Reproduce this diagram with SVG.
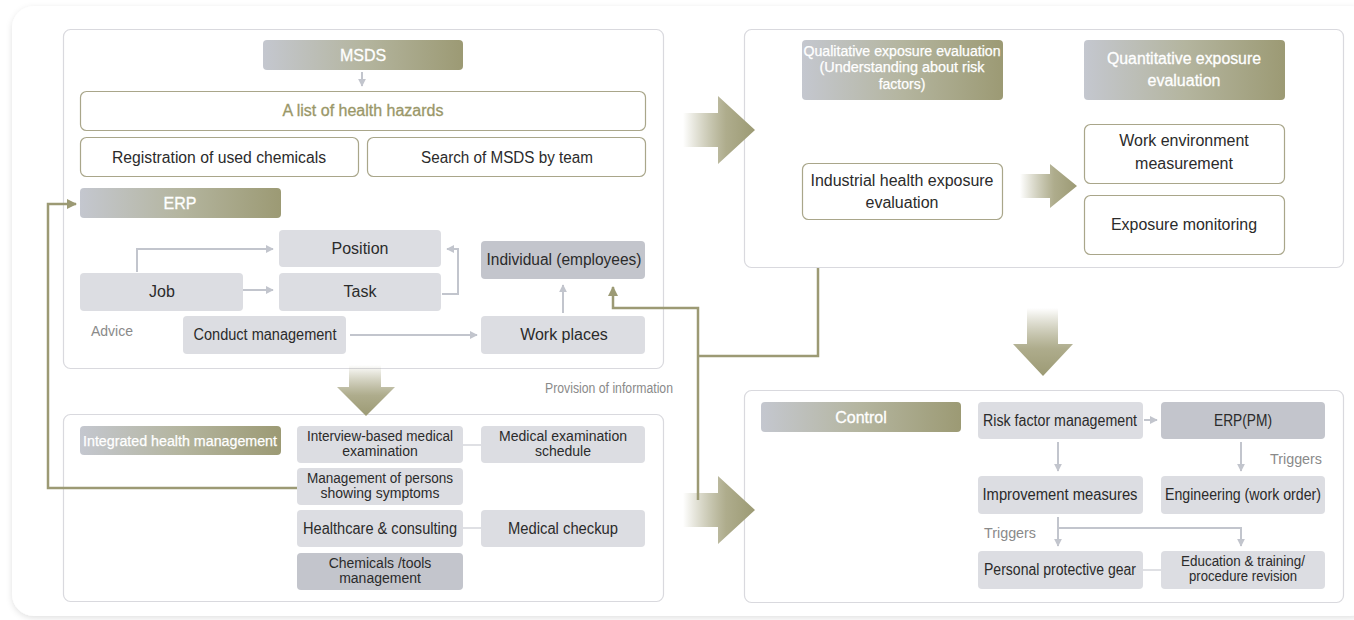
<svg xmlns="http://www.w3.org/2000/svg" width="1354" height="620" viewBox="0 0 1354 620">
  <defs>
    <linearGradient id="hdr" x1="0" y1="0" x2="1" y2="0">
      <stop offset="0" stop-color="#c4c7cf"/>
      <stop offset="0.5" stop-color="#b4b59f"/>
      <stop offset="1" stop-color="#9c9a74"/>
    </linearGradient>
    <linearGradient id="bigR" x1="0" y1="0" x2="1" y2="0">
      <stop offset="0" stop-color="#9c9a74" stop-opacity="0"/>
      <stop offset="0.6" stop-color="#aeac8c"/>
      <stop offset="1" stop-color="#9c9a74"/>
    </linearGradient>
    <linearGradient id="bigD" x1="0" y1="0" x2="0" y2="1">
      <stop offset="0" stop-color="#9c9a74" stop-opacity="0"/>
      <stop offset="0.6" stop-color="#aeac8c"/>
      <stop offset="1" stop-color="#9c9a74"/>
    </linearGradient>
    <filter id="shadow" x="-5%" y="-5%" width="110%" height="110%">
      <feDropShadow dx="0" dy="2" stdDeviation="3" flood-color="#000" flood-opacity="0.12"/>
    </filter>
    <marker id="ag" viewBox="0 0 10 10" refX="9" refY="5" markerWidth="4" markerHeight="4" orient="auto">
      <path d="M0,0 L10,5 L0,10 z" fill="#c2c5cd"/>
    </marker>
    <marker id="ao" viewBox="0 0 10 10" refX="9" refY="5" markerWidth="4" markerHeight="4" orient="auto">
      <path d="M0,0 L10,5 L0,10 z" fill="#9c9a74"/>
    </marker>
  </defs>
  <style>
    text { font-family: "Liberation Sans", Arial, sans-serif; text-anchor: middle; }
    .panel { fill: #ffffff; stroke: #d9d9de; stroke-width: 1.2; }
    .hdr { fill: url(#hdr); }
    .hdrt { fill: #ffffff; font-size: 16px; stroke: #ffffff; stroke-width: 0.3; }
    .hdrs { fill: #ffffff; font-size: 14px; stroke: #ffffff; stroke-width: 0.25; }
    .ob { fill: #ffffff; stroke: #a9a68a; stroke-width: 1.2; }
    .gb { fill: #dcdde2; }
    .db { fill: #c3c5cc; }
    .t { fill: #2b2b2b; font-size: 16px; }
    .ts { fill: #2b2b2b; font-size: 14px; }
    .lbl { fill: #8a8a8a; font-size: 14px; }
    .gl { fill: none; stroke: #c2c5cd; stroke-width: 2; }
    .ol { fill: none; stroke: #9c9a74; stroke-width: 2.5; }
    .pl { fill: none; stroke: #d5d6db; stroke-width: 1.5; }
  </style>

  <!-- outer card -->
  <rect x="12" y="6" width="1360" height="610" rx="22" fill="#ffffff" filter="url(#shadow)"/>

  <!-- panels -->
  <g id="panel-erp"><rect class="panel" x="63.5" y="29.5" width="600" height="339" rx="7"/></g>
  <g id="panel-health"><rect class="panel" x="63.5" y="414.5" width="600" height="187" rx="7"/></g>
  <g id="panel-exposure"><rect class="panel" x="744.5" y="29.5" width="599" height="238" rx="7"/></g>
  <g id="panel-control"><rect class="panel" x="744.5" y="390.5" width="599" height="212" rx="7"/></g>

  <!-- big flow arrows -->
  <g id="flow-arrows">
    <path d="M683,113 L718,113 L718,96 L755,130 L718,164 L718,147 L683,147 z" fill="url(#bigR)"/>
    <path d="M683,493 L718,493 L718,476 L755,510 L718,544 L718,527 L683,527 z" fill="url(#bigR)"/>
    <path d="M1020,174 L1050,174 L1050,164 L1077,186 L1050,208 L1050,198 L1020,198 z" fill="url(#bigR)"/>
    <path d="M349,365 L381,365 L381,387 L395,387 L366,416 L337,387 L349,387 z" fill="url(#bigD)"/>
    <path d="M1027,308 L1058,308 L1058,344 L1073,344 L1043,376 L1013,344 L1027,344 z" fill="url(#bigD)"/>
  </g>

  <!-- connectors -->
  <g id="connectors">
    <path class="gl" d="M362,72 V86" marker-end="url(#ag)"/>
    <path class="gl" d="M137,272 V249 H273" marker-end="url(#ag)"/>
    <path class="gl" d="M204,290 H273" marker-end="url(#ag)"/>
    <path class="gl" d="M442,294 H458 V249 H447" marker-end="url(#ag)"/>
    <path class="gl" d="M563,313 V285" marker-end="url(#ag)"/>
    <path class="gl" d="M350,335 H477" marker-end="url(#ag)"/>
    <path class="pl" d="M463,445 H481"/>
    <path class="pl" d="M463,528 H481"/>
    <path class="gl" d="M1144,420 H1157" marker-end="url(#ag)"/>
    <path class="gl" d="M1058,442 V471" marker-end="url(#ag)"/>
    <path class="gl" d="M1241,442 V471" marker-end="url(#ag)"/>
    <path class="gl" d="M1058,517 V546" marker-end="url(#ag)"/>
    <path class="gl" d="M1058,528 H1241 V546" marker-end="url(#ag)"/>
    <path class="pl" d="M1143,570 H1161"/>
    <path class="ol" d="M297,488 H48 V204 H76" marker-end="url(#ao)"/>
    <path class="ol" d="M698,500 V308 H613 V287" marker-end="url(#ao)"/>
    <path class="ol" d="M818,268 V356 H698"/>
  </g>

  <!-- MSDS / ERP panel -->
  <g id="msds"><rect class="hdr" x="263" y="40" width="200" height="30" rx="4"/><text class="hdrt" x="363" y="61">MSDS</text></g>
  <g id="hazards"><rect class="ob" x="80.5" y="91.5" width="565" height="39" rx="6"/><text x="363" y="116" font-size="16" fill="#9a9768" stroke="#9a9768" stroke-width="0.3">A list of health hazards</text></g>
  <g id="registration"><rect class="ob" x="80.5" y="137.5" width="278" height="39" rx="6"/><text class="t" x="219" y="163" textLength="214" lengthAdjust="spacingAndGlyphs">Registration of used chemicals</text></g>
  <g id="search"><rect class="ob" x="367.5" y="137.5" width="278" height="39" rx="6"/><text class="t" x="507" y="163" textLength="172" lengthAdjust="spacingAndGlyphs">Search of MSDS by team</text></g>
  <g id="erp"><rect class="hdr" x="80" y="188" width="201" height="30" rx="4"/><text class="hdrt" x="180" y="209">ERP</text></g>
  <g id="position"><rect class="gb" x="279" y="230" width="162" height="37" rx="4"/><text class="t" x="360" y="254">Position</text></g>
  <g id="job"><rect class="gb" x="80" y="273" width="163" height="38" rx="4"/><text class="t" x="162" y="297">Job</text></g>
  <g id="task"><rect class="gb" x="279" y="273" width="162" height="38" rx="4"/><text class="t" x="360" y="297">Task</text></g>
  <g id="individual"><rect class="db" x="481" y="241" width="164" height="38" rx="4"/><text class="t" x="564" y="265" textLength="155" lengthAdjust="spacingAndGlyphs">Individual (employees)</text></g>
  <g id="advice"><text class="lbl" x="112" y="336" font-size="15">Advice</text></g>
  <g id="conduct"><rect class="gb" x="183" y="316" width="163" height="38" rx="4"/><text class="t" x="265" y="340" textLength="143" lengthAdjust="spacingAndGlyphs">Conduct management</text></g>
  <g id="workplaces"><rect class="gb" x="481" y="316" width="164" height="38" rx="4"/><text class="t" x="564" y="340">Work places</text></g>
  <g id="provision"><text class="lbl" x="609" y="393" font-size="13" textLength="128" lengthAdjust="spacingAndGlyphs">Provision of information</text></g>

  <!-- integrated health management panel -->
  <g id="ihm"><rect class="hdr" x="80" y="426" width="201" height="29" rx="4"/><text class="hdrs" x="180" y="446" font-size="15" textLength="194" lengthAdjust="spacingAndGlyphs">Integrated health management</text></g>
  <g id="interview"><rect class="gb" x="297" y="426" width="166" height="37" rx="4"/><text class="ts" x="380" y="441" textLength="146" lengthAdjust="spacingAndGlyphs">Interview-based medical</text><text class="ts" x="380" y="456">examination</text></g>
  <g id="schedule"><rect class="gb" x="481" y="426" width="164" height="37" rx="4"/><text class="ts" x="563" y="441" textLength="128" lengthAdjust="spacingAndGlyphs">Medical examination</text><text class="ts" x="563" y="456">schedule</text></g>
  <g id="symptoms"><rect class="gb" x="297" y="468" width="166" height="37" rx="4"/><text class="ts" x="380" y="483" textLength="146" lengthAdjust="spacingAndGlyphs">Management of persons</text><text class="ts" x="380" y="498">showing symptoms</text></g>
  <g id="healthcare"><rect class="gb" x="297" y="510" width="166" height="37" rx="4"/><text class="t" x="380" y="534" textLength="154" lengthAdjust="spacingAndGlyphs">Healthcare &amp; consulting</text></g>
  <g id="checkup"><rect class="gb" x="481" y="510" width="164" height="37" rx="4"/><text class="t" x="563" y="534" textLength="110" lengthAdjust="spacingAndGlyphs">Medical checkup</text></g>
  <g id="chemicals"><rect class="db" x="297" y="553" width="166" height="37" rx="4"/><text class="ts" x="380" y="568">Chemicals /tools</text><text class="ts" x="380" y="583">management</text></g>

  <!-- exposure evaluation panel -->
  <g id="qualitative"><rect class="hdr" x="802" y="40" width="201" height="60" rx="4"/><text class="hdrs" x="902" y="56" font-size="15" textLength="197" lengthAdjust="spacingAndGlyphs">Qualitative exposure evaluation</text><text class="hdrs" x="902" y="72" font-size="15" textLength="165" lengthAdjust="spacingAndGlyphs">(Understanding about risk</text><text class="hdrs" x="902" y="89" font-size="15">factors)</text></g>
  <g id="quantitative"><rect class="hdr" x="1084" y="40" width="201" height="60" rx="4"/><text class="hdrt" x="1184" y="64" textLength="154" lengthAdjust="spacingAndGlyphs">Quantitative exposure</text><text class="hdrt" x="1184" y="86">evaluation</text></g>
  <g id="industrial"><rect class="ob" x="802.5" y="163.5" width="200" height="56" rx="6"/><text class="t" x="902" y="186" textLength="183" lengthAdjust="spacingAndGlyphs">Industrial health exposure</text><text class="t" x="902" y="208">evaluation</text></g>
  <g id="workenv"><rect class="ob" x="1084.5" y="124.5" width="200" height="59" rx="6"/><text class="t" x="1184" y="146">Work environment</text><text class="t" x="1184" y="169">measurement</text></g>
  <g id="monitoring"><rect class="ob" x="1084.5" y="195.5" width="200" height="59" rx="6"/><text class="t" x="1184" y="230" textLength="146" lengthAdjust="spacingAndGlyphs">Exposure monitoring</text></g>

  <!-- control panel -->
  <g id="control"><rect class="hdr" x="761" y="402" width="200" height="30" rx="4"/><text class="hdrt" x="861" y="423" font-size="17">Control</text></g>
  <g id="riskfactor"><rect class="gb" x="978" y="402" width="165" height="37" rx="4"/><text class="t" x="1060" y="426" textLength="154" lengthAdjust="spacingAndGlyphs">Risk factor management</text></g>
  <g id="erppm"><rect class="db" x="1161" y="402" width="164" height="37" rx="4"/><text class="t" x="1243" y="426" textLength="58" lengthAdjust="spacingAndGlyphs">ERP(PM)</text></g>
  <g id="triggers1"><text class="lbl" x="1296" y="464" font-size="15" textLength="52" lengthAdjust="spacingAndGlyphs">Triggers</text></g>
  <g id="improvement"><rect class="gb" x="978" y="476" width="165" height="38" rx="4"/><text class="t" x="1060" y="500" textLength="155" lengthAdjust="spacingAndGlyphs">Improvement measures</text></g>
  <g id="engineering"><rect class="gb" x="1161" y="476" width="164" height="38" rx="4"/><text class="t" x="1243" y="500" textLength="156" lengthAdjust="spacingAndGlyphs">Engineering (work order)</text></g>
  <g id="triggers2"><text class="lbl" x="1010" y="538" font-size="15" textLength="52" lengthAdjust="spacingAndGlyphs">Triggers</text></g>
  <g id="ppe"><rect class="gb" x="978" y="551" width="165" height="38" rx="4"/><text class="t" x="1060" y="575" textLength="152" lengthAdjust="spacingAndGlyphs">Personal protective gear</text></g>
  <g id="education"><rect class="gb" x="1161" y="551" width="164" height="38" rx="4"/><text class="ts" x="1243" y="566" textLength="124" lengthAdjust="spacingAndGlyphs">Education &amp; training/</text><text class="ts" x="1243" y="581" textLength="108" lengthAdjust="spacingAndGlyphs">procedure revision</text></g>
</svg>
